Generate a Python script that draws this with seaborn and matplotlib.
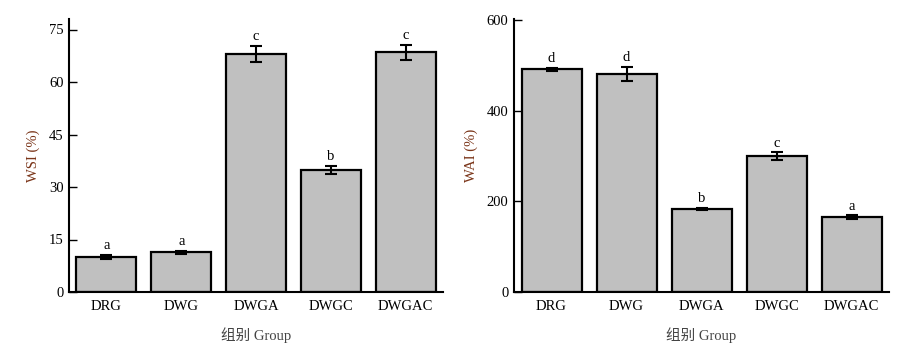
import matplotlib
matplotlib.use("Agg")
import matplotlib.pyplot as plt
import seaborn as sns
import pandas as pd
import numpy as np

groups = ["DRG", "DWG", "DWGA", "DWGC", "DWGAC"]
wsi = [10.0, 11.4, 68.1, 34.9, 68.5]
wsi_err = [0.5, 0.4, 2.3, 1.2, 2.2]
wsi_letters = ["a", "a", "c", "b", "c"]
wai = [491, 481, 183, 300, 165]
wai_err = [3, 15, 2, 8, 4]
wai_letters = ["d", "d", "b", "c", "a"]

sns.set_theme(style="ticks")
plt.rcParams["font.family"] = ["Liberation Serif", "Noto Sans CJK SC", "DejaVu Sans"]
plt.rcParams["text.color"] = "black"
plt.rcParams["xtick.color"] = "black"
plt.rcParams["ytick.color"] = "black"
plt.rcParams["axes.edgecolor"] = "black"

fig = plt.figure(figsize=(9, 3.46), dpi=100)
W, H = 900, 346
ax1 = fig.add_axes([69 / W, 1 - 292 / H, 374 / W, 273 / H])
ax2 = fig.add_axes([514 / W, 1 - 292 / H, 375 / W, 273 / H])

label_color = "#7a3418"

def draw(ax, vals, errs, letters, ylabel, ylim, yticks, off):
    df = pd.DataFrame({"group": groups, "value": vals})
    sns.barplot(data=df, x="group", y="value", ax=ax, color="#c0c0c0",
                edgecolor="black", linewidth=1.6, width=0.8, saturation=1, errorbar=None)
    x = np.arange(len(groups))
    ax.errorbar(x, vals, yerr=errs, fmt="none", ecolor="black", elinewidth=1.5,
                capsize=4, capthick=1.5)
    for xi, v, e, l in zip(x, vals, errs, letters):
        ax.text(xi, v + e + off, l, ha="center", va="bottom", fontsize=10.5, color="black")
    ax.set_xlim(-0.5, len(groups) - 0.5)
    ax.set_ylim(*ylim)
    ax.set_yticks(yticks)
    ax.tick_params(axis="y", direction="in", length=6, width=1, labelsize=10.5, pad=4,
                   labelcolor="black")
    ax.tick_params(axis="x", length=0, labelsize=10.5, pad=6, labelcolor="black")
    for s in ["top", "right"]:
        ax.spines[s].set_visible(False)
    for s in ["left", "bottom"]:
        ax.spines[s].set_linewidth(1.5)
    ax.set_ylabel(ylabel, color=label_color, fontsize=10.5, labelpad=6)
    ax.set_xlabel("组别 Group", fontsize=10.5, labelpad=10, color="#444444")

draw(ax1, wsi, wsi_err, wsi_letters, "WSI (%)", (0, 78), [0, 15, 30, 45, 60, 75], 0.8)
draw(ax2, wai, wai_err, wai_letters, "WAI (%)", (0, 602), [0, 200, 400, 600], 6)

fig.savefig("out.png", dpi=100)
